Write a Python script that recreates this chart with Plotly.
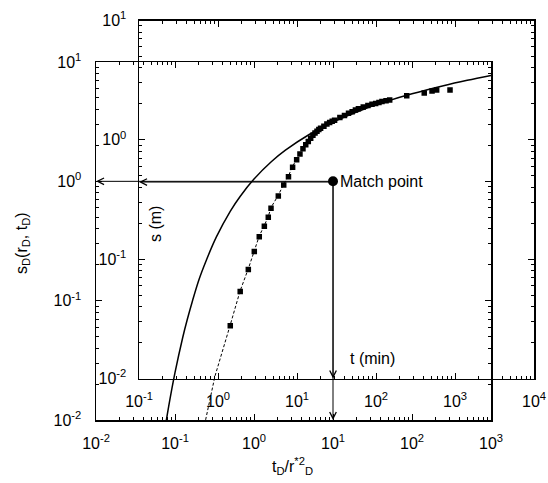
import math
import plotly.graph_objects as go

# Theis type curve (dimensionless)
theis_td = [0.0625, 0.0714, 0.0833, 0.1, 0.125, 0.143, 0.1667, 0.2, 0.25, 0.333, 0.5, 0.667,
            1.0, 1.667, 2.5, 5, 10, 25, 50, 100, 250, 500, 1000]
theis_sd = [0.00378, 0.00697, 0.01305, 0.0249, 0.0489, 0.0695, 0.1000, 0.1486, 0.2194, 0.3403,
            0.5598, 0.746, 1.0443, 1.4645, 1.8229, 2.4679, 3.1365, 4.0379, 4.7261, 5.4167,
            6.3316, 7.0242, 7.7171]

# Observed drawdown data (t in min, s in m)
t_obs = [1.43, 1.91, 2.42, 2.88, 3.33, 3.86, 4.33, 4.69, 5.80, 6.79, 7.8, 8.8, 9.9, 10.9,
         11.9, 12.9, 13.9, 14.9, 15.9, 16.9, 17.9, 18.9, 19.9, 21.9, 23.9, 25.9, 27.9, 29.9,
         34.9, 39.9, 44.9, 49.9, 54.9, 59.9, 69, 79, 89, 99, 109, 119, 134, 149, 245, 408,
         512, 586, 865]
s_obs = [0.0277, 0.0536, 0.0818, 0.116, 0.154, 0.189, 0.224, 0.267, 0.338, 0.419, 0.49,
         0.59, 0.68, 0.76, 0.84, 0.91, 0.97, 1.03, 1.09, 1.14, 1.18, 1.22, 1.25, 1.30, 1.36,
         1.40, 1.43, 1.46, 1.54, 1.60, 1.67, 1.72, 1.78, 1.82, 1.88, 1.94, 1.99, 2.02, 2.06,
         2.10, 2.13, 2.16, 2.34, 2.47, 2.57, 2.62, 2.62]

# Dashed curve through early data (t in min, s in m)
t_dash = [0.698, 0.916, 1.43, 1.91, 2.42, 2.88, 3.33, 3.86, 4.33, 4.69, 5.80, 6.79, 7.8, 8.8, 9.9]
s_dash = [0.00444, 0.0103, 0.0277, 0.0536, 0.0818, 0.116, 0.154, 0.189, 0.224, 0.267, 0.338,
          0.419, 0.49, 0.59, 0.68]

# Match point: (t, s) <-> (tD, sD)
match_t, match_s = 28.6, 0.443
match_td, match_sd = 10.0, 1.0

outer_x_ticks = [1e-2, 1e-1, 1e0, 1e1, 1e2, 1e3]
outer_x_text = ["10<sup>-2</sup>", "10<sup>-1</sup>", "10<sup>0</sup>", "10<sup>1</sup>", "10<sup>2</sup>", "10<sup>3</sup>"]
outer_y_ticks = [1e-2, 1e-1, 1e0, 1e1]
outer_y_text = ["10<sup>-2</sup>", "10<sup>-1</sup>", "10<sup>0</sup>", "10<sup>1</sup>"]
inner_x_ticks = [1e-1, 1e0, 1e1, 1e2, 1e3, 1e4]
inner_x_text = ["10<sup>-1</sup>", "10<sup>0</sup>", "10<sup>1</sup>", "10<sup>2</sup>", "10<sup>3</sup>", "10<sup>4</sup>"]
inner_y_ticks = outer_y_ticks
inner_y_text = outer_y_text

W, H = 548, 483
FONT = "Liberation Sans, Arial, Helvetica, sans-serif"


def minor_vals(lo, hi):
    return [m * 10 ** e for e in range(lo, hi) for m in range(2, 10)]


def px_dom_x(a, b):
    return [a / W, b / W]


def px_dom_y(top, bottom):
    return [1 - bottom / H, 1 - top / H]


fig = go.Figure()

fig.add_trace(go.Scatter(x=theis_td, y=theis_sd, mode="lines", line=dict(color="black", width=1.5, shape="spline"),
                         xaxis="x", yaxis="y", showlegend=False, hoverinfo="skip"))

td_dash = [t * match_td / match_t for t in t_dash]
sd_dash = [s * match_sd / match_s for s in s_dash]
fig.add_trace(go.Scatter(x=td_dash, y=sd_dash, mode="lines", line=dict(color="black", width=1, dash="3px,2px"),
                         xaxis="x", yaxis="y", showlegend=False, hoverinfo="skip"))

fig.add_trace(go.Scatter(x=t_obs, y=s_obs, mode="markers",
                         marker=dict(symbol="square", size=5.5, color="black", line=dict(width=0)),
                         xaxis="x2", yaxis="y2", showlegend=False, hoverinfo="skip"))

fig.add_trace(go.Scatter(x=[match_td], y=[match_sd], mode="markers",
                         marker=dict(symbol="circle", size=10, color="black"),
                         xaxis="x", yaxis="y", showlegend=False, cliponaxis=False, hoverinfo="skip"))

common = dict(type="log", showline=True, linecolor="black", linewidth=1.5, mirror="allticks",
              ticks="inside", ticklen=6, tickwidth=1, tickcolor="black", showgrid=False, zeroline=False,
              tickfont=dict(family=FONT, size=16, color="black"), tickmode="array", automargin=False)

fig.update_layout(
    width=W, height=H, autosize=False,
    margin=dict(l=0, r=0, t=0, b=0, pad=0, autoexpand=False),
    paper_bgcolor="white", plot_bgcolor="rgba(0,0,0,0)",
    font=dict(family=FONT, size=16, color="black"),
    hovermode=False,
    xaxis=dict(common, range=[-2, 3], domain=px_dom_x(96, 491), anchor="y",
               tickvals=outer_x_ticks, ticktext=outer_x_text, ticklabelstandoff=8,
               minor=dict(tickmode="array", tickvals=minor_vals(-2, 3), ticks="inside", ticklen=3,
                          tickcolor="black", showgrid=False)),
    yaxis=dict(common, range=[-2, 1], domain=px_dom_y(62, 420), anchor="x",
               tickvals=outer_y_ticks, ticktext=outer_y_text, ticklabelstandoff=10,
               minor=dict(tickmode="array", tickvals=minor_vals(-2, 1), ticks="inside", ticklen=3,
                          tickcolor="black", showgrid=False)),
    xaxis2=dict(common, range=[-1, 4], domain=px_dom_x(139, 534), anchor="y2",
                tickvals=inner_x_ticks, ticktext=inner_x_text, ticklabelstandoff=8,
                minor=dict(tickmode="array", tickvals=minor_vals(-1, 4), ticks="inside", ticklen=3,
                           tickcolor="black", showgrid=False)),
    yaxis2=dict(common, range=[-2, 1], domain=px_dom_y(20.5, 378.5), anchor="x2",
                tickvals=inner_y_ticks, ticktext=inner_y_text, ticklabelstandoff=8,
                minor=dict(tickmode="array", tickvals=minor_vals(-2, 1), ticks="inside", ticklen=3,
                           tickcolor="black", showgrid=False)),
)

lt, ls = math.log10(match_t), math.log10(match_s)
ltd, lsd = math.log10(match_td), math.log10(match_sd)
arrow = dict(showarrow=True, text="", arrowhead=5, arrowsize=1.3, arrowwidth=1, arrowcolor="black",
             standoff=0, startstandoff=0)
annotations = [
    # horizontal line to outer and inner y axes
    dict(arrow, xref="x", yref="y", axref="x", ayref="y", x=-2, y=lsd, ax=ltd, ay=lsd),
    dict(arrow, xref="x2", yref="y2", axref="x2", ayref="y2", x=-1, y=ls, ax=lt, ay=ls),
    # vertical line to outer and inner x axes
    dict(arrow, xref="x", yref="y", axref="x", ayref="y", x=ltd, y=-2, ax=ltd, ay=lsd),
    dict(arrow, xref="x2", yref="y2", axref="x2", ayref="y2", x=lt, y=-2, ax=lt, ay=ls),
    dict(text="Match point", xref="x", yref="y", x=ltd, y=lsd, xanchor="left", yanchor="middle",
         xshift=5, showarrow=False, font=dict(size=16)),
    dict(text="t (min)", xref="paper", yref="paper", x=372 / W, y=1 - 358 / H,
         xanchor="center", yanchor="middle", showarrow=False, font=dict(size=16)),
    dict(text="s (m)", xref="paper", yref="paper", x=155 / W, y=1 - 224 / H, textangle=-90,
         xanchor="center", yanchor="middle", showarrow=False, font=dict(size=16)),
    dict(text="s<sub>D</sub>(r<sub>D</sub>, t<sub>D</sub>)", xref="paper", yref="paper",
         x=23 / W, y=1 - 243 / H, textangle=-90, xanchor="center", yanchor="middle",
         showarrow=False, font=dict(size=16)),
    dict(text="t<sub>D</sub>/r<sup>*2</sup><sub>D</sub>", xref="paper", yref="paper",
         x=292 / W, y=1 - 466 / H, xanchor="center", yanchor="middle",
         showarrow=False, font=dict(size=16)),
]
fig.update_layout(annotations=annotations)

fig.write_html("out.html", config={"displayModeBar": False, "staticPlot": True},
               post_script="document.body.style.margin='0';document.body.style.padding='0';"
                           "document.body.style.overflow='hidden';")
